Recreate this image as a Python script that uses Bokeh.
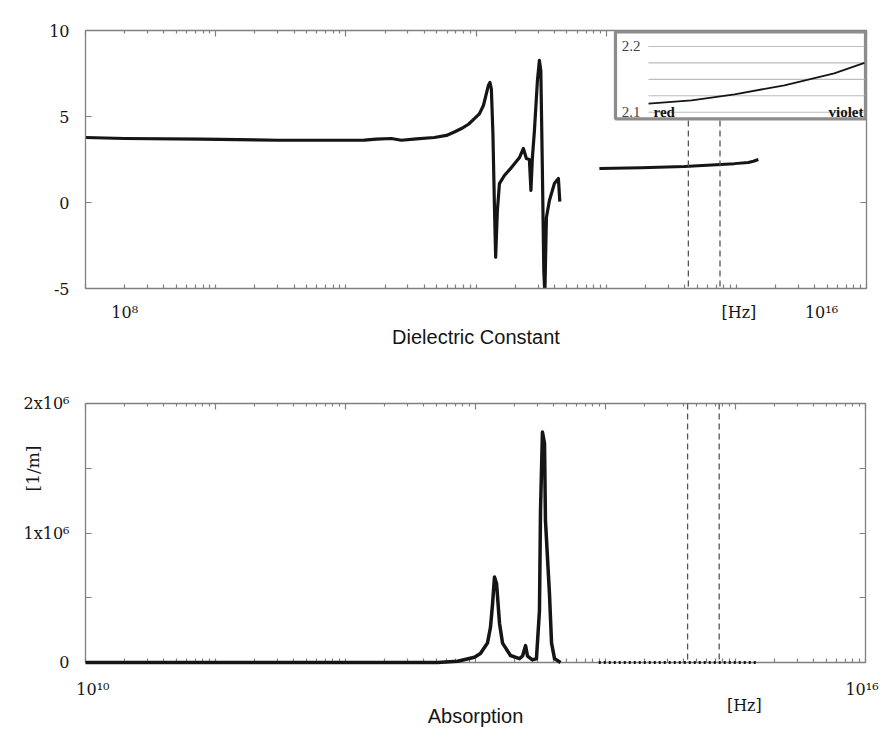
import math
from bokeh.plotting import figure
from bokeh.models import Range1d, LinearScale, FixedTicker, LinearAxis, LogAxis, Span, Title
from bokeh.layouts import column
from bokeh.embed import file_html
from bokeh.resources import INLINE
from bokeh.core.properties import value

# ---------------- data ----------------
# Dielectric constant, low-frequency branch (log10 of frequency in Hz)
eps_a_logf = [10.000, 10.300, 10.891, 11.482, 12.143, 12.235, 12.350, 12.427, 12.542, 12.680,
              12.773, 12.834, 12.888, 12.942, 12.988, 13.026, 13.057, 13.080, 13.095, 13.107,
              13.118, 13.130, 13.141, 13.151, 13.164, 13.180, 13.218, 13.272, 13.333, 13.364,
              13.387, 13.410, 13.422, 13.433, 13.449, 13.472, 13.487, 13.498, 13.510, 13.521,
              13.529, 13.541, 13.564, 13.602, 13.633, 13.644]
eps_a = [3.78, 3.72, 3.68, 3.62, 3.63, 3.68, 3.72, 3.62, 3.70, 3.78,
         3.90, 4.10, 4.30, 4.55, 4.88, 5.15, 5.64, 6.34, 6.80, 6.98,
         6.60, 4.00, 0.00, -3.18, -0.50, 1.10, 1.57, 2.03, 2.60, 3.14,
         2.56, 2.50, 0.70, 2.56, 4.19, 7.10, 8.26, 7.67, 1.86, -4.00,
         -5.30, -0.87, 0.12, 1.10, 1.40, 0.05]
# Dielectric constant, optical branch
eps_b_logf = [13.948, 14.270, 14.601, 14.985, 15.092, 15.131, 15.169]
eps_b = [1.98, 2.02, 2.09, 2.26, 2.33, 2.40, 2.50]

# Absorption [1/m]
abs_a_logf = [10.000, 12.708, 12.862, 12.992, 13.038, 13.092, 13.115, 13.131, 13.146, 13.162,
              13.185, 13.208, 13.269, 13.338, 13.362, 13.385, 13.400, 13.438, 13.469, 13.492,
              13.500, 13.515, 13.531, 13.538, 13.569, 13.585, 13.608, 13.654]
abs_a = [0, 0, 10000, 40000, 70000, 150000, 270000, 450000, 660000, 610000,
         300000, 150000, 54000, 30000, 50000, 130000, 50000, 20000, 30000, 400000,
         1170000, 1780000, 1690000, 1100000, 530000, 150000, 30000, 0]
abs_b_logf = [13.948, 14.270, 14.601, 14.985, 15.092, 15.169]
abs_b = [0, 0, 0, 0, 0, 0]

# Inset: visible range, red -> violet
inset_f = [4.28e14, 4.92e14, 5.56e14, 6.30e14, 7.04e14, 7.49e14]
inset_eps = [2.113, 2.118, 2.127, 2.141, 2.159, 2.175]
inset_grid = [2.1, 2.125, 2.15, 2.175, 2.2]
red_f, violet_f = 4.28e14, 7.49e14

# tick labels
eps_yticks = [-5, 0, 5, 10]
eps_ylabels = {-5: "-5", 0: "0", 5: "5", 10: "10"}
abs_yticks = [0, 500000, 1000000, 1500000, 2000000]
abs_ylabels = {0: "0", 500000: "", 1000000: "1x10\u2076", 1500000: "", 2000000: "2x10\u2076"}
top_xlabels = {2.0e10: "10\u2078", 1.047e15: "[Hz]", 4.51e15: "10\u00b9\u2076"}
bot_xlabels = {1.14e10: "10\u00b9\u2070", 9.4e15: "10\u00b9\u2076"}
bot_unit = {1.17e15: "[Hz]"}

eps_a_f = [10 ** e for e in eps_a_logf]
eps_b_f = [10 ** e for e in eps_b_logf]
abs_a_f = [10 ** e for e in abs_a_logf]
abs_b_f = [10 ** e for e in abs_b_logf]

decades = [10.0 ** d for d in range(10, 17)]
subdec = [m * 10.0 ** d for d in range(10, 16) for m in range(2, 10)]

GRAY = "#808080"
SERIF = "Liberation Serif"
TICKFONT = "DejaVu Serif"
SANS = "Liberation Sans"
INK = "#151515"


def style_axis(ax):
    ax.axis_line_color = GRAY
    ax.axis_line_width = 1.3
    ax.major_tick_line_color = GRAY
    ax.minor_tick_line_color = GRAY
    ax.major_tick_line_width = 1.2
    ax.minor_tick_line_width = 1.2
    ax.major_tick_out = 0
    ax.minor_tick_out = 0
    ax.major_label_text_font = TICKFONT
    ax.major_label_text_color = INK


def mirror_axes(fig, yticks):
    top = LogAxis(ticker=FixedTicker(ticks=decades, minor_ticks=subdec))
    style_axis(top)
    top.major_tick_in = 6
    top.minor_tick_in = 3
    top.major_label_overrides = {t: "" for t in decades}
    top.major_label_text_font_size = "8px"
    top.major_label_standoff = 0
    fig.add_layout(top, "above")
    right = LinearAxis(ticker=FixedTicker(ticks=yticks))
    style_axis(right)
    right.major_tick_in = 6
    right.minor_tick_in = 0
    right.major_label_overrides = {t: "" for t in yticks}
    right.major_label_text_font_size = "8px"
    right.major_label_standoff = 0
    fig.add_layout(right, "right")


# ---------------- upper panel: dielectric constant ----------------
p1 = figure(x_axis_type="log", x_range=Range1d(1e10, 1e16), y_range=Range1d(-5, 10),
            frame_width=781, frame_height=258,
            min_border_left=79, min_border_right=20, min_border_top=30, min_border_bottom=72,
            output_backend="svg", toolbar_location=None)
p1.grid.visible = False
p1.outline_line_color = None

xa = p1.xaxis[0]
style_axis(xa)
xa.ticker = FixedTicker(ticks=list(top_xlabels.keys()), minor_ticks=decades + subdec)
xa.major_tick_in = 0
xa.minor_tick_in = 4
xa.major_label_overrides = top_xlabels
xa.major_label_text_font_size = "16px"
xa.major_label_standoff = 14
xa.axis_label = "Dielectric Constant"
xa.axis_label_text_font = SANS
xa.axis_label_text_font_style = "normal"
xa.axis_label_text_font_size = "20px"
xa.axis_label_text_color = INK
xa.axis_label_standoff = 1

ya = p1.yaxis[0]
style_axis(ya)
ya.ticker = FixedTicker(ticks=eps_yticks)
ya.major_tick_in = 6
ya.minor_tick_in = 0
ya.major_label_overrides = eps_ylabels
ya.major_label_text_font_size = "16px"
ya.major_label_standoff = 16
mirror_axes(p1, eps_yticks)

for loc in (red_f, violet_f):
    p1.add_layout(Span(location=loc, dimension="height", line_color="#555555",
                       line_dash="6 4", line_width=1.3))

p1.line(eps_a_f, eps_a, line_color=INK, line_width=3.2, line_join="round")
p1.line(eps_b_f, eps_b, line_color=INK, line_width=3.0, line_join="round")

# inset placed in the upper-right corner of the panel via its own ranges
fl, fr = 0.7209, 0.9974   # horizontal frame fractions of red / violet
fb, ft = 0.6833, 0.9380   # vertical frame fractions of 2.1 / 2.2
sx = (violet_f - red_f) / (fr - fl)
ix0 = red_f - fl * sx
sy = (inset_grid[-1] - inset_grid[0]) / (ft - fb)
iy0 = inset_grid[0] - fb * sy
p1.extra_x_ranges = {"inset": Range1d(ix0, ix0 + sx)}
p1.extra_x_scales = {"inset": LinearScale()}
p1.extra_y_ranges = {"inset": Range1d(iy0, iy0 + sy)}
p1.extra_y_scales = {"inset": LinearScale()}
kw = dict(x_range_name="inset", y_range_name="inset", level="overlay")

p1.quad(left=[ix0 + 0.6786 * sx], right=[ix0 + 0.9987 * sx],
        bottom=[iy0 + 0.6578 * sy], top=[iy0 + 0.995 * sy],
        fill_color="white", line_color="#8c8c8c", line_width=3.2, **kw)
p1.segment(x0=[red_f] * len(inset_grid), x1=[violet_f] * len(inset_grid),
           y0=inset_grid, y1=inset_grid, line_color="#bdbdbd", line_width=1.1, **kw)
p1.line(inset_f, inset_eps, line_color=INK, line_width=1.8, **kw)
p1.text(x=[red_f, red_f], y=[inset_grid[-1], inset_grid[0]], text=["2.2", "2.1"],
        text_align="right", text_baseline="middle", x_offset=-8,
        text_font=value(SERIF), text_font_size="15px", text_color="#444444", **kw)
p1.text(x=[red_f], y=[inset_grid[0]], text=["red"], text_align="left", text_baseline="middle",
        x_offset=5, text_font=value(SERIF), text_font_style="bold", text_font_size="15px",
        text_color=INK, **kw)
p1.text(x=[violet_f], y=[inset_grid[0]], text=["violet"], text_align="right", text_baseline="middle",
        x_offset=-1, text_font=value(SERIF), text_font_style="bold", text_font_size="15px",
        text_color=INK, **kw)

# ---------------- lower panel: absorption ----------------
p2 = figure(x_axis_type="log", x_range=Range1d(1e10, 1e16), y_range=Range1d(0, 2000000),
            frame_width=780, frame_height=259,
            min_border_left=85, min_border_right=15, min_border_top=43, min_border_bottom=67,
            output_backend="svg", toolbar_location=None)
p2.grid.visible = False
p2.outline_line_color = None

xb = p2.xaxis[0]
style_axis(xb)
xb.ticker = FixedTicker(ticks=list(bot_xlabels.keys()), minor_ticks=decades + subdec)
xb.major_tick_in = 0
xb.minor_tick_in = 4
xb.major_label_overrides = bot_xlabels
xb.major_label_text_font_size = "16px"
xb.major_label_standoff = 17

# second (label-only) axis under the first: unit label and axis title
xb2 = LogAxis(ticker=FixedTicker(ticks=list(bot_unit.keys()), minor_ticks=[]))
style_axis(xb2)
xb2.axis_line_color = None
xb2.major_tick_line_color = None
xb2.major_tick_in = 0
xb2.major_label_overrides = bot_unit
xb2.major_label_text_font_size = "16px"
xb2.major_label_standoff = -6
xb2.axis_label = "Absorption"
xb2.axis_label_text_font = SANS
xb2.axis_label_text_font_style = "normal"
xb2.axis_label_text_font_size = "20px"
xb2.axis_label_text_color = INK
xb2.axis_label_standoff = -13
p2.add_layout(xb2, "below")

yb = p2.yaxis[0]
style_axis(yb)
yb.ticker = FixedTicker(ticks=abs_yticks)
yb.major_tick_in = 6
yb.minor_tick_in = 0
yb.major_label_overrides = abs_ylabels
yb.major_label_text_font_size = "16px"
yb.major_label_standoff = 16
mirror_axes(p2, abs_yticks)

p2.add_layout(Title(text="[1/m]", align="right", offset=42, standoff=-45,
                    text_font=TICKFONT, text_font_size="17px", text_font_style="normal",
                    text_color=INK), "left")

for loc in (red_f, violet_f):
    p2.add_layout(Span(location=loc, dimension="height", line_color="#555555",
                       line_dash="6 4", line_width=1.3))

p2.line(abs_a_f, abs_a, line_color=INK, line_width=3.5, line_join="round", level="overlay")
p2.line(abs_b_f, abs_b, line_color=INK, line_width=3.0, line_dash="2 3", level="overlay")

layout = column(p1, p2)

open("out.html", "w").write(file_html(layout, INLINE))
